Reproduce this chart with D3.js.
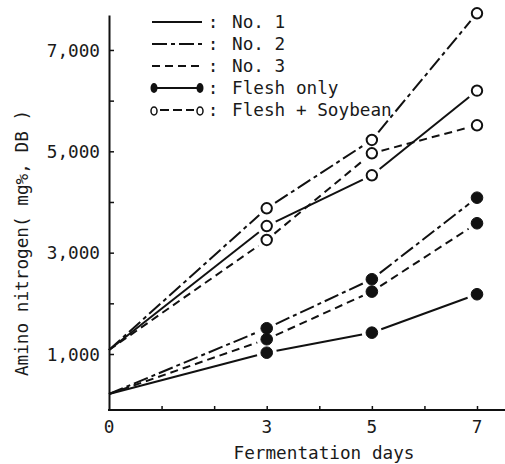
<!DOCTYPE html>
<html>
<head>
<meta charset="utf-8">
<script src="https://cdn.jsdelivr.net/npm/d3@7"></script>
<style>
  body { margin: 0; background: #fff; }
  svg text { font-family: "DejaVu Sans Mono", "Liberation Mono", monospace; font-size: 17.7px; fill: #1a1a1a; }
</style>
</head>
<body>
<svg id="chart" width="505" height="464"></svg>
<script>
// days of fermentation
const days = [0, 3, 5, 7];
const xLabelDays = [0, 3, 5, 7];
const yTickValues = [1000, 2000, 3000, 4000, 5000, 6000, 7000];
const yLabelValues = [1000, 3000, 5000, 7000];

// amino nitrogen (mg%, DB)
const fleshNo1 = [210, 1026, 1421, 2179];
const fleshNo2 = [210, 1508, 2475, 4085];
const fleshNo3 = [210, 1291, 2231, 3580];
const soyNo1 = [1080, 3525, 4527, 6197];
const soyNo2 = [1080, 3876, 5224, 7724];
const soyNo3 = [1080, 3250, 4961, 5514];

const legendNames = ["No. 1", "No. 2", "No. 3", "Flesh only", "Flesh + Soybean"];

const dashes = { no1: null, no2: "15,4,4,4", no3: "8,5" };

const series = [
  { vals: fleshNo1, dash: dashes.no1, open: false },
  { vals: fleshNo2, dash: dashes.no2, open: false },
  { vals: fleshNo3, dash: dashes.no3, open: false },
  { vals: soyNo1, dash: dashes.no1, open: true },
  { vals: soyNo2, dash: dashes.no2, open: true },
  { vals: soyNo3, dash: dashes.no3, open: true }
];

let svg = d3.select("#chart");

let x = d3.scaleLinear().domain([0, 7]).range([109, 477]);
let y = d3.scaleLinear().domain([-105, 7690]).range([410, 15]);

// y axis
let yAxis = svg.append("g")
  .attr("transform", "translate(" + x(0) + ",0)")
  .call(d3.axisLeft(y)
    .tickValues(yTickValues)
    .tickSizeInner(-5)
    .tickSizeOuter(0)
    .tickPadding(9)
    .tickFormat(d => yLabelValues.includes(d) ? d3.format(",")(d) : ""));
yAxis.select(".domain").attr("stroke", "#111").attr("stroke-width", 2);
yAxis.selectAll("line").attr("stroke", "#111").attr("stroke-width", 1.5);
yAxis.selectAll("text").attr("font-size", null).attr("font-family", null).attr("dy", "0.35em");

// x axis
let xAxis = svg.append("g")
  .attr("transform", "translate(0," + y.range()[0] + ")")
  .call(d3.axisBottom(x)
    .tickValues(d3.range(1, 8))
    .tickSizeInner(-4)
    .tickSizeOuter(0)
    .tickFormat(""));
xAxis.select(".domain").remove();
xAxis.selectAll("line").attr("stroke", "#111").attr("stroke-width", 1.5);
xAxis.append("line")
  .attr("x1", x(0) - 1).attr("x2", x(7.55))
  .attr("stroke", "#111").attr("stroke-width", 2);

svg.append("g").selectAll("text")
  .data(xLabelDays)
  .enter()
  .append("text")
  .attr("x", d => x(d))
  .attr("y", 433)
  .attr("text-anchor", "middle")
  .text(d => d);

svg.append("text")
  .attr("x", 324)
  .attr("y", 459)
  .attr("text-anchor", "middle")
  .text("Fermentation days");

svg.append("text")
  .attr("transform", "translate(28,243) rotate(-90)")
  .attr("text-anchor", "middle")
  .text("Amino nitrogen( mg%, DB )");

// lines, broken off short of the markers
const gap = 10;
series.forEach(s => {
  let pts = days.map((d, i) => [x(d), y(s.vals[i])]);
  for (let i = 0; i < pts.length - 1; i++) {
    let [x0, y0] = pts[i], [x1, y1] = pts[i + 1];
    let len = Math.hypot(x1 - x0, y1 - y0);
    let ux = (x1 - x0) / len, uy = (y1 - y0) / len;
    let g0 = i > 0 ? gap : 0;
    svg.append("line")
      .attr("x1", x0 + ux * g0).attr("y1", y0 + uy * g0)
      .attr("x2", x1 - ux * gap).attr("y2", y1 - uy * gap)
      .attr("stroke", "#111")
      .attr("stroke-width", 2)
      .attr("stroke-dasharray", s.dash);
  }
  svg.append("g").selectAll("circle")
    .data(pts.slice(1))
    .enter()
    .append("circle")
    .attr("cx", d => d[0])
    .attr("cy", d => d[1])
    .attr("r", s.open ? 5.2 : 5.8)
    .attr("fill", s.open ? "#fff" : "#111")
    .attr("stroke", "#111")
    .attr("stroke-width", s.open ? 2 : 1);
});

// legend
let leg = svg.append("g");
let rowY = i => 22 + i * 22;
[dashes.no1, dashes.no2, dashes.no3].forEach((dash, i) => {
  leg.append("line")
    .attr("x1", 152).attr("x2", 202)
    .attr("y1", rowY(i)).attr("y2", rowY(i))
    .attr("stroke", "#111").attr("stroke-width", 2)
    .attr("stroke-dasharray", dash);
});
// flesh only sample
leg.append("line")
  .attr("x1", 156).attr("x2", 198)
  .attr("y1", rowY(3)).attr("y2", rowY(3))
  .attr("stroke", "#111").attr("stroke-width", 2);
leg.selectAll(".fdot").data([154, 200]).enter()
  .append("ellipse")
  .attr("cx", d => d).attr("cy", rowY(3))
  .attr("rx", 3.5).attr("ry", 5)
  .attr("fill", "#111");
// flesh + soybean sample
leg.append("line")
  .attr("x1", 160).attr("x2", 194)
  .attr("y1", rowY(4)).attr("y2", rowY(4))
  .attr("stroke", "#111").attr("stroke-width", 2)
  .attr("stroke-dasharray", "9,4");
leg.selectAll(".odot").data([154, 200]).enter()
  .append("ellipse")
  .attr("cx", d => d).attr("cy", rowY(4) + 1)
  .attr("rx", 3).attr("ry", 4)
  .attr("fill", "none")
  .attr("stroke", "#111").attr("stroke-width", 1.5);

legendNames.forEach((name, i) => {
  leg.append("text")
    .attr("x", 213).attr("y", rowY(i) + 6)
    .attr("text-anchor", "middle")
    .text(":");
  leg.append("text")
    .attr("x", 232).attr("y", rowY(i) + 6)
    .text(name);
});
</script>
</body>
</html>
